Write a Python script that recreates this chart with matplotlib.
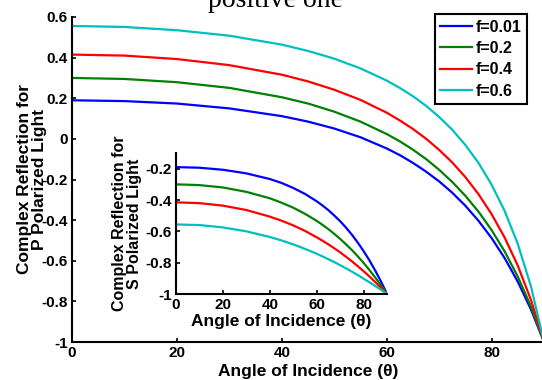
import numpy as np
import matplotlib
matplotlib.use("Agg")
import matplotlib.pyplot as plt

plt.rcParams['font.family'] = ['Liberation Sans', 'DejaVu Sans']
plt.rcParams['font.weight'] = 'bold'
plt.rcParams['axes.labelweight'] = 'bold'
plt.rcParams['axes.unicode_minus'] = False

# angle of incidence (deg)
theta = [0, 10, 20, 30, 40, 45, 50, 55, 60, 62.5, 65, 67.5, 70, 72.5, 75, 77.5, 80, 82.5, 85, 87.5, 90]

labels = ["f=0.01", "f=0.2", "f=0.4", "f=0.6"]
colors = ['#0000ff', '#008000', '#ff0000', '#00bfbf']

# P polarized (main plot)
rp_001 = [0.190, 0.186, 0.174, 0.150, 0.112, 0.085, 0.051, 0.008, -0.047, -0.080, -0.118, -0.161, -0.209, -0.265, -0.329, -0.403, -0.488, -0.587, -0.703, -0.839, -1.0]
rp_02  = [0.300, 0.295, 0.279, 0.251, 0.205, 0.174, 0.134, 0.085, 0.024, -0.012, -0.053, -0.099, -0.152, -0.212, -0.280, -0.358, -0.449, -0.554, -0.678, -0.825, -1.0]
rp_04  = [0.415, 0.410, 0.393, 0.363, 0.316, 0.283, 0.242, 0.192, 0.129, 0.091, 0.049, 0.001, -0.054, -0.116, -0.188, -0.272, -0.370, -0.486, -0.624, -0.792, -1.0]
rp_06  = [0.556, 0.551, 0.535, 0.508, 0.464, 0.433, 0.395, 0.347, 0.287, 0.251, 0.210, 0.163, 0.108, 0.045, -0.030, -0.118, -0.225, -0.355, -0.517, -0.725, -1.0]

# S polarized (inset)
rs_001 = [-0.190, -0.194, -0.207, -0.230, -0.266, -0.291, -0.323, -0.361, -0.408, -0.435, -0.465, -0.499, -0.535, -0.576, -0.621, -0.671, -0.726, -0.785, -0.851, -0.922, -1.0]
rs_02  = [-0.300, -0.305, -0.320, -0.348, -0.389, -0.417, -0.449, -0.488, -0.533, -0.559, -0.586, -0.616, -0.648, -0.683, -0.719, -0.759, -0.801, -0.847, -0.895, -0.946, -1.0]
rs_04  = [-0.415, -0.420, -0.436, -0.464, -0.506, -0.532, -0.562, -0.597, -0.638, -0.660, -0.683, -0.708, -0.734, -0.762, -0.791, -0.822, -0.854, -0.888, -0.924, -0.961, -1.0]
rs_06  = [-0.556, -0.560, -0.575, -0.600, -0.636, -0.658, -0.683, -0.712, -0.743, -0.760, -0.778, -0.796, -0.816, -0.836, -0.857, -0.879, -0.902, -0.925, -0.949, -0.974, -1.0]

xticks = [0, 20, 40, 60, 80]
main_yticks = [-1, -0.8, -0.6, -0.4, -0.2, 0, 0.2, 0.4, 0.6]
main_ylabels = ['-1', '-0.8', '-0.6', '-0.4', '-0.2', '0', '0.2', '0.4', '0.6']
ins_yticks = [-1, -0.8, -0.6, -0.4, -0.2]
ins_ylabels = ['-1', '-0.8', '-0.6', '-0.4', '-0.2']

fig = plt.figure(figsize=(5.42, 3.80), dpi=100)
fig.text(276/542, 1 - 7/380, "positive one", ha='center', va='baseline',
         fontsize=20, family='Liberation Serif', fontweight='normal')


def style(ax):
    for s in ['top', 'right']:
        ax.spines[s].set_visible(False)
    for s in ['left', 'bottom']:
        ax.spines[s].set_linewidth(1.5)
    ax.tick_params(direction='in', length=3, width=1.2, labelsize=11, pad=3)


ax = fig.add_axes([72/542, 38/380, 472/542, 325/380])
for y, c, lab in zip([rp_001, rp_02, rp_04, rp_06], colors, labels):
    ax.plot(theta, y, color=c, lw=1.6, label=lab)
ax.set_xlim(0, 90)
ax.set_ylim(-1, 0.6)
ax.set_xticks(xticks)
ax.set_yticks(main_yticks)
ax.set_yticklabels(main_ylabels)
style(ax)
ax.set_xlabel("Angle of Incidence (\u03b8)", fontsize=12.5, labelpad=3)
ax.set_ylabel("Complex Reflection for\nP Polarized Light", fontsize=12.5, linespacing=1.0)
ax.yaxis.set_label_coords(-0.053, 0.5)
leg = ax.legend(loc='upper right', bbox_to_anchor=(527/542, 1 - 14/380),
                bbox_transform=fig.transFigure, borderaxespad=0, fontsize=11.5,
                handlelength=2.0, handletextpad=0.2, labelspacing=0.4,
                fancybox=False, framealpha=1, edgecolor='black', borderpad=0.35)
leg.get_frame().set_linewidth(1.5)

ins = fig.add_axes([176/542, 1 - 294/380, 211/542, 141/380])
for y, c in zip([rs_001, rs_02, rs_04, rs_06], colors):
    ins.plot(theta, y, color=c, lw=1.6)
ins.set_xlim(0, 90)
ins.set_ylim(-1, -0.1)
ins.set_xticks(xticks)
ins.set_yticks(ins_yticks)
ins.set_yticklabels(ins_ylabels)
ins.patch.set_alpha(0)
style(ins)
ins.set_xlabel("Angle of Incidence (\u03b8)", fontsize=12.5, labelpad=1)
ins.set_ylabel("Complex Reflection for\nS Polarized Light", fontsize=11.5, linespacing=1.0)
ins.yaxis.set_label_coords(-0.16, 0.5)

fig.savefig("out.png", dpi=100)
